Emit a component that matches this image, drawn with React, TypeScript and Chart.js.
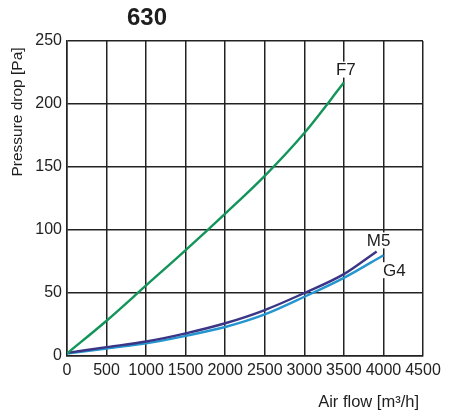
import React, { useEffect, useRef } from "react";
import { Chart, registerables } from "chart.js";

Chart.register(...registerables);

const chartTitle = "630";
const xTitle = "Air flow [m³/h]";
const yTitle = "Pressure drop [Pa]";

const flowF7 = [0, 500, 1000, 1500, 2000, 2500, 3000, 3500];
const dropF7 = [2, 28, 56, 84, 113, 143, 177, 217];

const flowM5 = [0, 500, 1000, 1500, 2000, 2500, 3000, 3500, 3914];
const dropM5 = [2.5, 7, 11.5, 18, 26, 36.5, 50, 65, 83];

const flowG4 = [0, 500, 1000, 1500, 2000, 2500, 3000, 3500, 4000];
const dropG4 = [2, 6, 10, 16, 23, 33, 47, 62, 80];

const seriesNames = ["F7", "M5", "G4"];
const seriesColors = ["#13955a", "#3b3585", "#2595cf"];

const FONT = "'Liberation Sans', Arial, sans-serif";

const toPts = (xs: number[], ys: number[]) => xs.map((x, i) => ({ x, y: ys[i] }));

const labelOffsets = [
  { dx: 2, dy: -13 },
  { dx: 2, dy: -11 },
  { dx: 11, dy: 15 },
];

const decorPlugin = {
  id: "decor",
  afterDatasetsDraw(chart: any) {
    const { ctx } = chart;
    const xs = chart.scales.x;
    const ys = chart.scales.y;
    ctx.save();
    ctx.font = `17px ${FONT}`;
    ctx.textAlign = "center";
    ctx.textBaseline = "middle";
    chart.data.datasets.forEach((ds: any, i: number) => {
      const last = ds.data[ds.data.length - 1];
      const px = xs.getPixelForValue(last.x) + labelOffsets[i].dx;
      const py = ys.getPixelForValue(last.y) + labelOffsets[i].dy;
      const w = ctx.measureText(seriesNames[i]).width;
      ctx.fillStyle = "#ffffff";
      ctx.fillRect(px - w / 2 - 2, py - 8, w + 4, 16);
      ctx.fillStyle = "#1e1e1e";
      ctx.fillText(seriesNames[i], px, py + 1);
    });
    ctx.restore();
  },
  afterDraw(chart: any) {
    const { ctx } = chart;
    ctx.save();
    ctx.fillStyle = "#1e1e1e";
    ctx.font = `bold 24px ${FONT}`;
    ctx.textAlign = "center";
    ctx.textBaseline = "middle";
    ctx.fillText(chartTitle, 147, 18);

    ctx.font = `16.5px ${FONT}`;
    ctx.textAlign = "right";
    ctx.fillText(xTitle, 419, 402);

    ctx.font = `15.5px ${FONT}`;
    ctx.translate(18, 112);
    ctx.rotate(-Math.PI / 2);
    ctx.textAlign = "center";
    ctx.fillText(yTitle, 0, 0);
    ctx.restore();
  },
};

export default function App() {
  const ref = useRef<HTMLCanvasElement | null>(null);
  useEffect(() => {
    if (!ref.current) return;
    const chart = new Chart(ref.current, {
      type: "line",
      data: {
        datasets: [
          { label: "F7", data: toPts(flowF7, dropF7) },
          { label: "M5", data: toPts(flowM5, dropM5) },
          { label: "G4", data: toPts(flowG4, dropG4) },
        ].map((d, i) => ({
          ...d,
          borderColor: seriesColors[i],
          backgroundColor: seriesColors[i],
          borderWidth: 2.4,
          pointRadius: 0,
          cubicInterpolationMode: "monotone" as const,
          fill: false,
        })),
      },
      options: {
        responsive: false,
        animation: false,
        events: [],
        layout: { padding: { left: 0, right: 27, top: 41, bottom: 0 } },
        plugins: { legend: { display: false }, tooltip: { enabled: false } },
        scales: {
          x: {
            type: "linear",
            min: 0,
            max: 4500,
            afterFit: (s: any) => {
              s.height = 63;
            },
            grid: { color: "#222222", lineWidth: 1.5, drawTicks: false },
            border: { color: "#222222", width: 1.5 },
            ticks: {
              stepSize: 500,
              autoSkip: false,
              maxRotation: 0,
              padding: 5,
              color: "#222222",
              font: { family: FONT, size: 16 },
              callback: (v: any) => String(v),
            },
          },
          y: {
            type: "linear",
            min: 0,
            max: 250,
            afterFit: (s: any) => {
              s.width = 67;
            },
            grid: { color: "#222222", lineWidth: 1.5, drawTicks: false },
            border: { color: "#222222", width: 1.5 },
            ticks: {
              stepSize: 50,
              padding: 5,
              color: "#222222",
              font: { family: FONT, size: 16 },
              callback: (v: any) => String(v),
            },
          },
        },
      },
      plugins: [decorPlugin],
    });
    return () => chart.destroy();
  }, []);
  return (
    <div style={{ position: "fixed", left: 0, top: 0, width: 450, height: 419, background: "#fff" }}>
      <canvas ref={ref} width={450} height={419} style={{ width: 450, height: 419 }} />
    </div>
  );
}
